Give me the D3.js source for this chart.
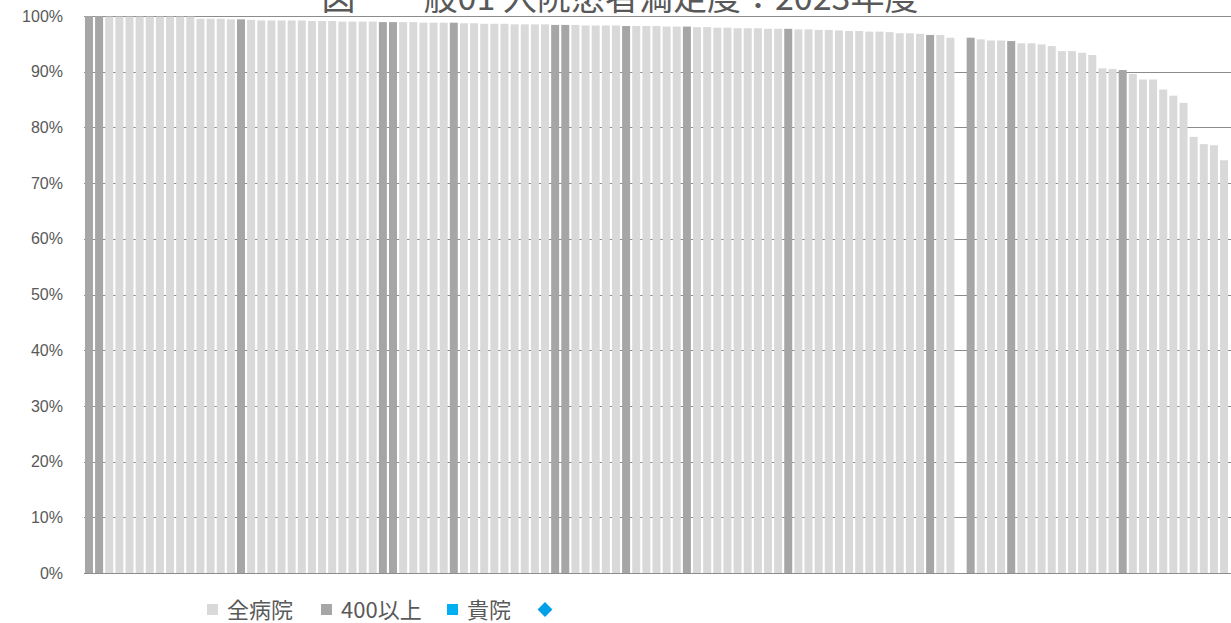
<!DOCTYPE html>
<html>
<head>
<meta charset="utf-8">
<script src="https://cdn.jsdelivr.net/npm/d3@7"></script>
<style>
  body { margin: 0; background: #fff; }
  svg { display: block; font-family: "Liberation Sans", "Noto Sans CJK JP", sans-serif; }
</style>
</head>
<body>
<svg id="chart" width="1231" height="623"></svg>
<script>
// hospital index (sorted by score, desc)
var hospitals = d3.range(113);

// 全病院 - satisfaction (%) per hospital, null = no data
var allValues = [
  100, 100, 99.9, 99.9, 99.9, 99.9, 99.9, 99.9, 99.9, 99.9,
  99.9, 99.5, 99.5, 99.5, 99.4, 99.4, 99.3, 99.2, 99.2, 99.2,
  99.2, 99.2, 99.1, 99.1, 99.1, 99.0, 99.0, 99.0, 99.0, 98.9,
  98.9, 98.9, 98.9, 98.8, 98.8, 98.8, 98.8, 98.7, 98.7, 98.6,
  98.6, 98.6, 98.5, 98.5, 98.5, 98.5, 98.4, 98.4, 98.4, 98.3,
  98.3, 98.3, 98.3, 98.2, 98.2, 98.2, 98.2, 98.1, 98.1, 98.1,
  98.0, 98.0, 97.9, 97.9, 97.8, 97.8, 97.8, 97.7, 97.7, 97.7,
  97.6, 97.6, 97.5, 97.5, 97.4, 97.3, 97.3, 97.2, 97.2, 97.1,
  96.9, 96.9, 96.8, 96.6, 96.6, 96.1, null, 96.1, 95.8, 95.6,
  95.6, 95.5, 95.1, 95.1, 94.9, 94.6, 93.7, 93.7, 93.4, 93.0,
  90.6, 90.5, 90.3, 89.6, 88.6, 88.6, 86.8, 85.7, 84.4, 78.3,
  77.0, 76.8, 74.1
];

// hospitals with 400 beds or more
var largeHospitals = [0, 1, 15, 29, 30, 36, 46, 47, 53, 59, 69, 83, 87, 91, 102];

var yTicks = [0, 10, 20, 30, 40, 50, 60, 70, 80, 90, 100];

var legendItems = [
  { label: "全病院", color: "#d9d9d9", shape: "square" },
  { label: "400以上", color: "#a6a6a6", shape: "square" },
  { label: "貴院", color: "#00b0f0", shape: "square" },
  { label: "", color: "#00a0e9", shape: "diamond" }
];

var title = "図　一般01 入院患者満足度：2023年度";

var svg = d3.select("#chart");

var x = d3.scaleBand()
  .domain(hospitals)
  .range([83.9, 1229.1])
  .paddingInner(0.21)
  .paddingOuter(0.105);

var y = d3.scaleLinear()
  .domain([0, 100])
  .range([573, 16]);

// gridlines
svg.append("g")
  .selectAll("line")
  .data(yTicks.filter(function(d) { return d > 0; }))
  .enter().append("line")
    .attr("x1", 84)
    .attr("x2", 1231)
    .attr("y1", function(d) { return Math.round(y(d)) + 0.5; })
    .attr("y2", function(d) { return Math.round(y(d)) + 0.5; })
    .attr("stroke", "#8c8c8c")
    .attr("stroke-width", 1);

// bars
svg.append("g")
  .selectAll("rect")
  .data(hospitals.filter(function(i) { return allValues[i] != null; }))
  .enter().append("rect")
    .attr("x", function(i) { return x(i); })
    .attr("width", x.bandwidth())
    .attr("y", function(i) { return y(allValues[i]); })
    .attr("height", function(i) { return y(0) - y(allValues[i]); })
    .attr("fill", function(i) {
      return largeHospitals.indexOf(i) >= 0 ? "#a6a6a6" : "#d9d9d9";
    });

// x axis line
svg.append("line")
  .attr("x1", 84).attr("x2", 1231)
  .attr("y1", 573.5).attr("y2", 573.5)
  .attr("stroke", "#8c8c8c");

// y axis labels
var yAxis = d3.axisLeft(y)
  .tickValues(yTicks)
  .tickSize(0)
  .tickPadding(0)
  .tickFormat(function(d) { return d + "%"; });

svg.append("g")
  .attr("transform", "translate(63,0)")
  .call(yAxis)
  .call(function(g) { g.select(".domain").remove(); })
  .selectAll("text")
    .attr("font-size", 16)
    .attr("font-family", "Liberation Sans, sans-serif")
    .attr("fill", "#595959");

// title (top is cut off, as in the source image)
svg.append("text")
  .attr("x", 620)
  .attr("y", 10)
  .attr("text-anchor", "middle")
  .attr("font-size", 34)
  .attr("font-family", "Noto Sans CJK JP, sans-serif")
  .attr("fill", "#595959")
  .text(title);

// legend
var legendX = [207, 321, 447, 540];
var legend = svg.append("g");

legendItems.forEach(function(d, i) {
  var lx = legendX[i];
  if (d.shape == "square") {
    legend.append("rect")
      .attr("x", lx).attr("y", 604)
      .attr("width", 11).attr("height", 11)
      .attr("fill", d.color);
  } else {
    legend.append("path")
      .attr("d", d3.symbol().type(d3.symbolDiamond2).size(140))
      .attr("transform", "translate(" + (lx + 5) + ",609.5)")
      .attr("fill", d.color);
  }
  if (d.label) {
    legend.append("text")
      .attr("x", lx + 20)
      .attr("y", 618)
      .attr("font-size", 22)
      .attr("font-family", "Noto Sans CJK JP, sans-serif")
      .attr("fill", "#595959")
      .text(d.label);
  }
});
</script>
</body>
</html>
